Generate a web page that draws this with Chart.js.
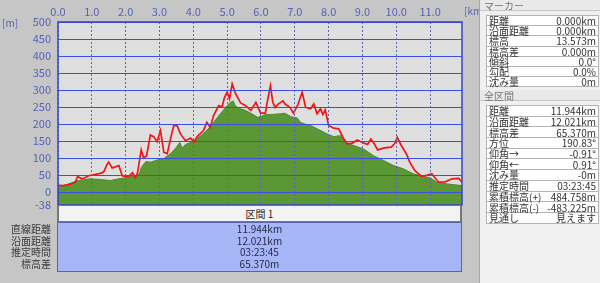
<!DOCTYPE html>
<html>
<head>
<meta charset="utf-8">
<script src="https://cdn.jsdelivr.net/npm/chart.js@4/dist/chart.umd.min.js"></script>
<style>
  body { margin:0; width:600px; height:283px; background:#c6c6c6; overflow:hidden; position:relative;
         font-family:"Noto Sans CJK JP", sans-serif; }
  #wrap { position:absolute; left:0; top:0; width:470px; height:283px; }
  .unit { position:absolute; font-size:10px; color:#5563b8; line-height:10px; }
  #panel { position:absolute; left:479px; top:0; width:121px; height:283px; background:#f0f0f0; border-left:1px solid #a8a8a8; }
  .ph { position:absolute; left:0; width:121px; height:11px; font-size:10px; line-height:11px; color:#777;
        padding-left:4px; box-sizing:border-box; background:#e9e9e9; border-bottom:1px solid #c8c8c8; }
  table.kv { position:absolute; left:6px; width:113px; border-collapse:collapse; background:#fff; font-size:10px; color:#333; }
  table.kv td { border-top:1px solid #b4b4b4; border-bottom:1px solid #b4b4b4; padding:0 2px; line-height:9px; white-space:nowrap; }
  table.kv td.k { border-left:1px solid #b4b4b4; }
  table.kv td.v { text-align:right; border-right:1px solid #b4b4b4; }
  #sech { position:absolute; left:57px; top:205px; width:405px; height:17px; box-sizing:border-box; background:#f3f3f3;
          border:1px solid #777; border-left-width:2px; border-right-width:2px; text-align:center; font-size:10px; line-height:15px; color:#222; }
  #secb { position:absolute; left:57px; top:222px; width:405px; height:50px; box-sizing:border-box; background:#a6b6f6;
          border:1px solid #5566aa; }
  #secb div { height:11.6px; line-height:11.6px; font-size:10px; text-align:center; color:#2a2a50; }
  #secl { position:absolute; left:0; top:223px; width:51px; }
  #secl div { height:11.6px; line-height:11.6px; font-size:10px; text-align:right; color:#3a3a3a; white-space:nowrap; }
</style>
</head>
<body>
<div id="wrap"><canvas id="profile" width="470" height="283"></canvas></div>
<div class="unit" style="left:2px;top:18px">[m]</div>
<div class="unit" style="left:464px;top:6px">[km]</div>

<div id="sech">区間 1</div>
<div id="secl"></div>
<div id="secb"></div>

<div id="panel">
  <div class="ph" style="top:0">マーカー</div>
  <table class="kv" id="t1" style="top:15px"></table>
  <div class="ph" style="top:90px">全区間</div>
  <table class="kv" id="t2" style="top:105px"></table>
</div>

<script>
// axis ticks
const xTicks = [0, 1, 2, 3, 4, 5, 6, 7, 8, 9, 10, 11];
const yTicks = [-38, 0, 50, 100, 150, 200, 250, 300, 350, 400, 450, 500];

// terrain profile (green)
const groundKm = [0, 0.27, 0.55, 0.95, 1.25, 1.55, 1.85, 2.1, 2.3, 2.4, 2.46, 2.6, 2.75, 2.95, 3.15, 3.35, 3.5, 3.6, 3.67,
  3.77, 3.9, 4.05, 4.2, 4.4, 4.6, 4.8, 5.0, 5.1, 5.18, 5.25, 5.4, 5.55, 5.7, 5.9, 6.0, 6.13, 6.28, 6.58, 6.7, 6.88, 6.96,
  7.07, 7.17, 7.3, 7.47, 7.66, 7.96, 8.15, 8.35, 8.5, 8.74, 9.03, 9.33, 9.62, 9.92, 10.22, 10.5, 10.8, 11.0, 11.2, 11.5, 11.944];
const groundElev = [14, 22, 33, 39, 37, 34, 40, 44, 49, 52, 72, 90, 88, 95, 100, 115, 132, 146, 130,
  140, 145, 153, 164, 181, 205, 230, 254, 264, 268, 252, 245, 240, 232, 220, 222, 228, 228, 230, 232, 222, 220,
  218, 205, 200, 196, 186, 171, 163, 166, 146, 137, 127, 107, 93, 78, 68, 54, 46, 42, 29, 24, 19];

// surface line (red)
const surfaceKm = [0, 0.15, 0.27, 0.45, 0.51, 0.58, 0.7, 0.8, 0.9, 1.05, 1.25, 1.35, 1.45, 1.5, 1.6, 1.7, 1.8, 1.9, 2.0,
  2.1, 2.2, 2.29, 2.35, 2.46, 2.53, 2.62, 2.73, 2.83, 2.93, 3.03, 3.13, 3.23, 3.33, 3.42, 3.52, 3.62, 3.77, 3.92, 4.02,
  4.12, 4.2, 4.3, 4.4, 4.5, 4.6, 4.75, 4.85, 4.92, 5.0, 5.07, 5.15, 5.25, 5.4, 5.55, 5.7, 5.85, 5.99, 6.13, 6.2, 6.28,
  6.35, 6.42, 6.5, 6.65, 6.72, 6.86, 6.96, 7.08, 7.22, 7.32, 7.47, 7.56, 7.66, 7.76, 7.83, 7.9, 8.0, 8.15, 8.3, 8.45,
  8.55, 8.7, 8.85, 9.0, 9.15, 9.25, 9.35, 9.45, 9.65, 9.85, 9.95, 10.03, 10.15, 10.3, 10.4, 10.55, 10.75, 10.9, 11.05,
  11.25, 11.45, 11.65, 11.85, 11.944];
const surfaceElev = [20, 19, 21, 26, 29, 46, 39, 42, 48, 51, 55, 59, 81, 88, 71, 74, 78, 48, 46,
  47, 57, 43, 56, 124, 100, 107, 168, 163, 148, 181, 117, 113, 158, 195, 196, 171, 151, 159, 147,
  164, 171, 181, 205, 190, 225, 254, 250, 277, 294, 274, 318, 289, 262, 254, 240, 264, 232, 232, 272, 313,
  264, 249, 258, 268, 258, 249, 232, 254, 294, 249, 245, 259, 230, 245, 228, 242, 196, 188, 186, 156,
  142, 144, 153, 146, 140, 156, 142, 124, 130, 132, 142, 161, 137, 112, 88, 63, 46, 49, 54,
  29, 30, 39, 40, 29];

// marker cursor at start
const markerKm = [0, 0];
const markerElev = [-38, 20];

// text tables
const sectionLabels = ['直線距離', '沿面距離', '推定時間', '標高差'];
const sectionValues = ['11.944km', '12.021km', '03:23:45', '65.370m'];
const markerLabels = ['距離', '沿面距離', '標高', '標高差', '傾斜', '勾配', '沈み量'];
const markerValues = ['0.000km', '0.000km', '13.573m', '0.000m', '0.0°', '0.0%', '0m'];
const totalLabels = ['距離', '沿面距離', '標高差', '方位', '仰角→', '仰角←', '沈み量', '推定時間', '累積標高(+)', '累積標高(-)', '見通し'];
const totalValues = ['11.944km', '12.021km', '65.370m', '190.83°', '-0.91°', '0.91°', '-0m', '03:23:45', '484.758m', '-483.225m', '見えます'];

// fill tables
document.getElementById('secl').innerHTML = sectionLabels.map(t => `<div>${t}</div>`).join('');
document.getElementById('secb').innerHTML = sectionValues.map(t => `<div>${t}</div>`).join('');
const fillTable = (id, labels, values, h) => {
  document.getElementById(id).innerHTML = labels.map((l, i) =>
    `<tr style="height:${h}px"><td class="k">${l}</td><td class="v">${values[i]}</td></tr>`).join('');
};
fillTable('t1', markerLabels, markerValues, 10.2);
fillTable('t2', totalLabels, totalValues, 10.7);

const pts = (xs, ys) => xs.map((x, i) => ({ x: x, y: ys[i] }));

// plot background + frame
const plotFrame = {
  id: 'plotFrame',
  beforeDraw(chart) {
    const a = chart.chartArea, ctx = chart.ctx;
    ctx.save();
    ctx.fillStyle = '#dfdfdf';
    ctx.fillRect(a.left, a.top, a.right - a.left, a.bottom - a.top);
    ctx.restore();
  },
  afterDraw(chart) {
    const a = chart.chartArea, ctx = chart.ctx;
    ctx.save();
    ctx.strokeStyle = '#3344cc';
    ctx.lineWidth = 1.5;
    ctx.strokeRect(a.left, a.top, a.right - a.left, a.bottom - a.top);
    ctx.restore();
  }
};

Chart.defaults.font.family = '"Noto Sans CJK JP", sans-serif';

new Chart(document.getElementById('profile'), {
  type: 'line',
  data: {
    datasets: [
      {
        label: '地表面',
        data: pts(surfaceKm, surfaceElev),
        borderColor: '#f01616',
        borderWidth: 1.7,
        pointRadius: 0,
        fill: false,
        order: 0
      },
      {
        label: 'マーカー',
        data: pts(markerKm, markerElev),
        borderColor: '#e01010',
        borderWidth: 1.5,
        pointRadius: 0,
        fill: false,
        order: 1
      },
      {
        label: '標高',
        data: pts(groundKm, groundElev),
        borderColor: '#4f8a2c',
        borderWidth: 1,
        backgroundColor: '#5b9734',
        pointRadius: 0,
        fill: 'start',
        order: 2
      }
    ]
  },
  options: {
    responsive: false,
    devicePixelRatio: 1,
    animation: false,
    layout: { padding: { left: 0, right: 8, top: 0, bottom: 78 } },
    plugins: { legend: { display: false }, tooltip: { enabled: false } },
    scales: {
      x: {
        type: 'linear',
        position: 'top',
        min: 0,
        max: 11.944,
        afterBuildTicks: s => { s.ticks = xTicks.map(v => ({ value: v })); },
        afterFit: s => { s.height = 22; },
        ticks: {
          color: '#5563b8',
          font: { size: 11 },
          padding: 4,
          maxRotation: 0,
          callback: v => Number(v).toFixed(1)
        },
        grid: { color: '#5a66b4', lineWidth: 1, drawTicks: false, z: 1 },
        border: { display: false, dash: [2, 2] }
      },
      y: {
        min: -38,
        max: 500,
        afterBuildTicks: s => { s.ticks = yTicks.map(v => ({ value: v })); },
        afterFit: s => { s.width = 58; },
        ticks: { color: '#5563b8', font: { size: 11 }, padding: 7 },
        grid: { color: '#3d4fe0', lineWidth: 1, drawTicks: false, z: 1 },
        border: { display: false }
      }
    }
  },
  plugins: [plotFrame]
});
</script>
</body>
</html>
